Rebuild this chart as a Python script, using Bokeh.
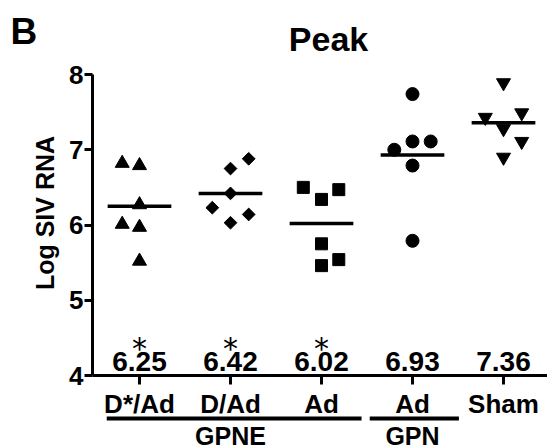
import numpy as np
from bokeh.plotting import figure
from bokeh.models import Range1d, FixedTicker
from bokeh.core.properties import value
from bokeh.embed import file_html
from bokeh.resources import INLINE

# ---------------- data ----------------
categories = ["D*/Ad", "D/Ad", "Ad", "Ad", "Sham"]
mean_values = [6.25, 6.42, 6.02, 6.93, 7.36]
mean_labels = ["6.25", "6.42", "6.02", "6.93", "7.36"]
significant = [True, True, True, False, False]

vals_dstar_ad = [6.82, 6.79, 6.27, 6.01, 5.97, 5.52]
jit_dstar_ad = [-0.19, 0.0, 0.0, -0.19, 0.0, 0.0]
vals_d_ad = [6.88, 6.75, 6.42, 6.23, 6.14, 6.03]
jit_d_ad = [0.2, 0.0, 0.0, -0.2, 0.2, 0.0]
vals_gpne_ad = [6.50, 6.47, 6.34, 5.75, 5.54, 5.46]
jit_gpne_ad = [-0.2, 0.19, 0.0, 0.0, 0.19, 0.0]
vals_gpn_ad = [7.74, 7.11, 7.11, 7.00, 6.79, 5.79]
jit_gpn_ad = [0.0, 0.0, 0.2, -0.2, 0.0, 0.0]
vals_sham = [7.89, 7.49, 7.43, 7.28, 7.11, 6.90]
jit_sham = [0.0, 0.2, -0.2, 0.0, 0.2, 0.0]

group_names = ["GPNE", "GPN"]
group_members = [[0, 1, 2], [3]]

y_ticks = [4, 5, 6, 7, 8]

# ---------------- layout constants ----------------
W, H = 547, 448
X0_PX, XU = 139.0, 91.0      # px of first category, px per category
Y8_PX, YU = 74.0, 75.25      # px of value 8, px per log unit
TS = 7.0                     # text baseline correction (px)

def fx(px):
    return (px - X0_PX) / XU

def fy(py):
    return 8 - (py - Y8_PX) / YU

FONT = value("Liberation Sans")

p = figure(width=W, height=H, output_backend="svg", toolbar_location=None,
           x_range=Range1d(fx(0), fx(W)), y_range=Range1d(fy(H), fy(0)),
           min_border=0, min_border_left=0, min_border_right=0,
           min_border_top=0, min_border_bottom=0)
p.outline_line_color = None
p.grid.visible = False
p.background_fill_color = "white"
p.border_fill_color = "white"

# axes (fixed inside the frame)
yax = p.yaxis[0]
yax.fixed_location = fx(92)
yax.bounds = (4, 8)
yax.ticker = FixedTicker(ticks=y_ticks)
yax.major_tick_out = 8
yax.major_tick_in = 0
yax.minor_tick_out = 0
yax.minor_tick_in = 0
yax.major_label_standoff = 1
yax.major_label_text_font = "Liberation Sans"
yax.major_label_text_font_size = "26px"
yax.major_label_text_font_style = "bold"
yax.major_label_text_color = "black"
yax.axis_line_width = 3
yax.major_tick_line_width = 3
yax.axis_line_color = "black"
yax.major_tick_line_color = "black"

xax = p.xaxis[0]
xax.fixed_location = 4
xax.bounds = (fx(92), fx(W))
xax.ticker = FixedTicker(ticks=list(range(len(categories))))
xax.major_label_overrides = {i: c for i, c in enumerate(categories)}
xax.major_tick_out = 9
xax.major_tick_in = 0
xax.minor_tick_out = 0
xax.minor_tick_in = 0
xax.major_label_standoff = 4
xax.major_label_text_font = "Liberation Sans"
xax.major_label_text_font_size = "26px"
xax.major_label_text_font_style = "bold"
xax.major_label_text_color = "black"
xax.axis_line_width = 3
xax.major_tick_line_width = 3
xax.axis_line_color = "black"
xax.major_tick_line_color = "black"

# points
groups = [
    (vals_dstar_ad, jit_dstar_ad, "triangle", 14, 0.0),
    (vals_d_ad, jit_d_ad, "square", 9, np.pi / 4),
    (vals_gpne_ad, jit_gpne_ad, "square", 12, 0.0),
    (vals_gpn_ad, jit_gpn_ad, "circle", 13, 0.0),
    (vals_sham, jit_sham, "inverted_triangle", 14, 0.0),
]
for i, (vals, jit, mk, sz, ang) in enumerate(groups):
    xs = [i + j for j in jit]
    p.scatter(x=xs, y=vals, marker=mk, size=sz, angle=ang,
              fill_color="black", line_color="black", line_width=1)

# mean lines
idx = list(range(len(categories)))
p.segment(x0=[i - 0.35 for i in idx], x1=[i + 0.35 for i in idx],
          y0=mean_values, y1=mean_values, line_color="black", line_width=3.5)

# mean value labels
p.text(x=idx, y=[fy(368 - TS)] * len(idx), text=mean_labels, text_font=FONT,
       text_font_size="28px", text_font_style="bold", text_align="center",
       text_baseline="alphabetic", text_color="black")

# significance asterisks
sig_x = [i for i, s in zip(idx, significant) if s]
p.text(x=sig_x, y=[fy(355 - TS)] * len(sig_x), text=["*"] * len(sig_x),
       text_font=value("DejaVu Sans"), text_font_size="30px",
       text_align="center", text_baseline="alphabetic", text_color="black")

# group brackets below category labels
br_left_pad = [0.36, 0.47]
br_right_pad = [0.44, 0.51]
br_x0 = [min(m) - lp for m, lp in zip(group_members, br_left_pad)]
br_x1 = [max(m) + rp for m, rp in zip(group_members, br_right_pad)]
br_y = [fy(418)] * len(group_names)
p.segment(x0=br_x0, x1=br_x1, y0=br_y, y1=br_y, line_color="black", line_width=4)
p.text(x=[sum(m) / len(m) for m in group_members], y=[fy(442 - TS)] * len(group_names),
       text=group_names, text_font=FONT, text_font_size="25px",
       text_font_style="bold", text_align="center", text_baseline="alphabetic",
       text_color="black")

# y axis title
p.text(x=[fx(51 - TS)], y=[fy(212.5)], text=["Log SIV RNA"], angle=np.pi / 2,
       text_font=FONT, text_font_size="25px", text_font_style="bold",
       text_align="center", text_baseline="alphabetic", text_color="black")

# panel title and letter
p.text(x=[fx(328)], y=[fy(45 - TS)], text=["Peak"], text_font=FONT,
       text_font_size="34px", text_font_style="bold", text_align="center",
       text_baseline="alphabetic", text_color="black")
p.text(x=[fx(10)], y=[fy(38 - TS)], text=["B"], text_font=FONT,
       text_font_size="37px", text_font_style="bold", text_align="left",
       text_baseline="alphabetic", text_color="black")

open("out.html", "w").write(file_html(p, INLINE))
